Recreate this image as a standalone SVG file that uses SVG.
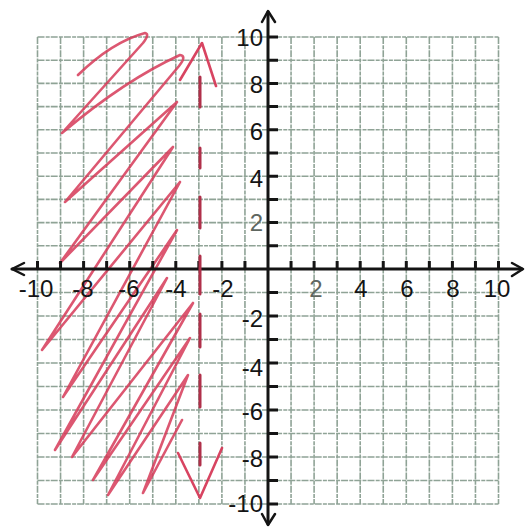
<svg xmlns="http://www.w3.org/2000/svg" width="528" height="527" viewBox="0 0 528 527">
<style>
.grid{fill:none;stroke:#8fa396;stroke-width:1.6;stroke-dasharray:7 1.2 4 1}
.axis{fill:none;stroke:#141414;stroke-width:3;stroke-linecap:round}
.tick{fill:none;stroke:#141414;stroke-width:3}
.arrow{fill:none;stroke:#141414;stroke-width:2.5;stroke-linecap:round;stroke-linejoin:round}
.lbl{font-family:"Liberation Sans",Arial,sans-serif;font-size:24px;fill:#141414}
.gray{fill:#5e6660}
.red{fill:none;stroke:#d63a58;stroke-width:2.6;stroke-linecap:round;stroke-linejoin:round;opacity:0.85}
.dash{fill:none;stroke:#b0304a;stroke-width:3;stroke-linecap:round}
</style>
<rect width="528" height="527" fill="#ffffff"/>
<g id="grid">
<path class="grid" d="M37.5 37V504 M60.55 37V504 M83.6 37V504 M106.65 37V504 M129.7 37V504 M152.75 37V504 M175.8 37V504 M198.85 37V504 M221.9 37V504 M244.95 37V504 M291.05 37V504 M314.1 37V504 M337.15 37V504 M360.2 37V504 M383.25 37V504 M406.3 37V504 M429.35 37V504 M452.4 37V504 M475.45 37V504 M498.5 37V504"/>
<path class="grid" d="M37.5 37H498.5 M37.5 60.2H498.5 M37.5 83.4H498.5 M37.5 106.6H498.5 M37.5 129.8H498.5 M37.5 153H498.5 M37.5 176.2H498.5 M37.5 199.4H498.5 M37.5 222.6H498.5 M37.5 245.8H498.5 M37.5 292.5H498.5 M37.5 316H498.5 M37.5 339.5H498.5 M37.5 363H498.5 M37.5 386.5H498.5 M37.5 410H498.5 M37.5 433.5H498.5 M37.5 457H498.5 M37.5 480.5H498.5 M37.5 504H498.5"/>
</g>
<g id="shading">
<path class="red" d="M78 75 Q112 42 145 33 Q150 34 143 43 L62 133 Q125 80 180 55 Q187 56 179 66 L65 202 L177 102 L60 263 L173 147 L42 350 L180 182 L63 397 L177 230 L55 450 L167 278 L72 457 L193 303 L93 480 L190 338 L108 495 L188 375 L143 493 L182 420"/>
</g>
<g id="axes">
<path class="axis" d="M12 269H522 M268 12V524"/>
<path class="tick" d="M37.5 261V269 M60.55 261V269 M83.6 261V269 M106.65 261V269 M129.7 261V269 M152.75 261V269 M175.8 261V269 M198.85 261V269 M221.9 261V269 M244.95 261V269 M291.05 261V269 M314.1 261V269 M337.15 261V269 M360.2 261V269 M383.25 261V269 M406.3 261V269 M429.35 261V269 M452.4 261V269 M475.45 261V269 M498.5 261V269"/>
<path class="tick" d="M268 37H278 M268 60.2H278 M268 83.4H278 M268 106.6H278 M268 129.8H278 M268 153H278 M268 176.2H278 M268 199.4H278 M268 222.6H278 M268 245.8H278 M268 292.5H278 M268 316H278 M268 339.5H278 M268 363H278 M268 386.5H278 M268 410H278 M268 433.5H278 M268 457H278 M268 480.5H278 M268 504H278"/>
<path class="arrow" d="M262 22L268 11L275 22 M512 263L523 269L512 276 M24 263L12 269L24 275 M262 514L268 525L275 514"/>
</g>
<g id="boundary">
<path class="dash" d="M200 77V107 M200 148V168 M200 197V228 M200 256V294 M200 314V347 M200 375V407 M200 443V465"/>
<path class="red" style="opacity:0.95" d="M180 80L202 43L216 86 M178 453L200 498L222 448"/>
</g>
<g id="x-labels">
<text class="lbl" x="36" y="297" text-anchor="middle">-10</text>
<text class="lbl" x="83" y="297" text-anchor="middle">-8</text>
<text class="lbl" x="129" y="297" text-anchor="middle">-6</text>
<text class="lbl" x="176" y="297" text-anchor="middle">-4</text>
<text class="lbl" x="223" y="297" text-anchor="middle">-2</text>
<text class="lbl gray" x="316" y="297" text-anchor="middle">2</text>
<text class="lbl" x="361" y="297" text-anchor="middle">4</text>
<text class="lbl" x="407" y="297" text-anchor="middle">6</text>
<text class="lbl" x="453" y="297" text-anchor="middle">8</text>
<text class="lbl" x="497" y="297" text-anchor="middle">10</text>
</g>
<g id="y-labels">
<text class="lbl" x="263" y="46" text-anchor="end">10</text>
<text class="lbl" x="263" y="93" text-anchor="end">8</text>
<text class="lbl" x="263" y="140" text-anchor="end">6</text>
<text class="lbl" x="263" y="187" text-anchor="end">4</text>
<text class="lbl gray" x="263" y="231" text-anchor="end">2</text>
<text class="lbl" x="263" y="327" text-anchor="end">-2</text>
<text class="lbl" x="263" y="376" text-anchor="end">-4</text>
<text class="lbl" x="263" y="420" text-anchor="end">-6</text>
<text class="lbl" x="263" y="467" text-anchor="end">-8</text>
<text class="lbl" x="263" y="512" text-anchor="end">-10</text>
</g>
</svg>
